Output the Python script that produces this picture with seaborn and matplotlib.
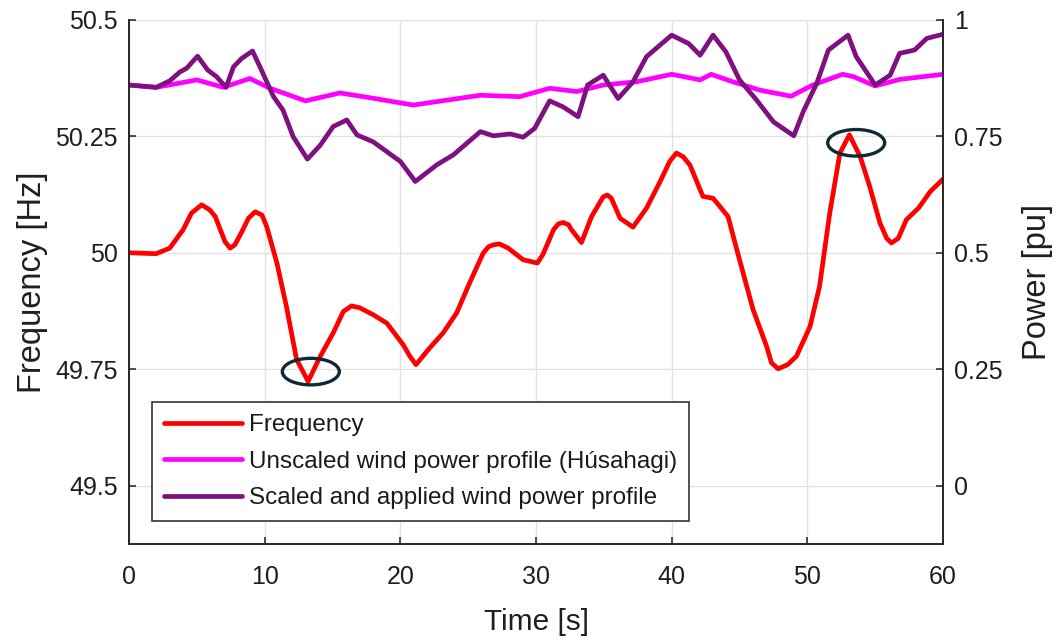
import numpy as np
import pandas as pd
import matplotlib
matplotlib.use("Agg")
import matplotlib.pyplot as plt
from matplotlib.patches import Ellipse
import seaborn as sns

# Grid frequency [Hz] over time [s]
freq_t = [0, 2.0, 3.0, 4.0, 4.6, 5.35, 5.95, 6.35, 7.07, 7.45, 7.8, 8.4, 8.8,
          9.3, 9.8, 10.15, 10.9, 11.6, 12.35, 13.2, 14.1, 15.05, 15.8, 16.4,
          17.0, 18.0, 19.0, 20.2, 20.7, 21.15, 21.55, 22.05, 23.15, 24.15,
          25.1, 26.1, 26.5, 26.85, 27.3, 27.95, 29.05, 30.1, 30.5, 31.3, 31.65,
          32.0, 32.4, 32.6, 33.35, 34.1, 34.95, 35.25, 35.55, 36.2, 37.15,
          38.15, 39.15, 39.85, 40.35, 40.85, 41.35, 42.3, 43.05, 44.15, 45.0,
          46.0, 47.0, 47.35, 47.85, 48.55, 49.2, 50.2, 50.9, 51.65, 52.4, 53.1,
          53.9, 54.6, 55.35, 55.85, 56.2, 56.7, 57.3, 58.2, 59.05, 60.0]
freq_hz = [50.0, 49.998, 50.01, 50.05, 50.085, 50.103, 50.092, 50.078, 50.024,
           50.01, 50.017, 50.05, 50.074, 50.088, 50.081, 50.056, 49.978,
           49.885, 49.771, 49.724, 49.778, 49.828, 49.874, 49.886, 49.882,
           49.867, 49.849, 49.803, 49.778, 49.76, 49.774, 49.792, 49.828,
           49.871, 49.935, 49.999, 50.013, 50.017, 50.019, 50.01, 49.985,
           49.978, 49.996, 50.05, 50.062, 50.065, 50.06, 50.05, 50.022,
           50.078, 50.12, 50.124, 50.117, 50.074, 50.055, 50.096, 50.153,
           50.196, 50.214, 50.206, 50.188, 50.121, 50.117, 50.078, 49.985,
           49.878, 49.799, 49.764, 49.751, 49.76, 49.778, 49.842, 49.928,
           50.085, 50.214, 50.253, 50.206, 50.142, 50.064, 50.031, 50.021,
           50.031, 50.071, 50.096, 50.131, 50.158]

# Unscaled wind power profile (Húsahagi) [pu]
raw_t = [0, 2.0, 5.0, 6.95, 8.9, 10.4, 13.0, 15.55, 17.5, 20.95, 25.9, 28.8,
         31.0, 33.0, 34.95, 37.4, 40.0, 42.1, 42.9, 44.5, 46.5, 48.8, 50.4,
         52.6, 53.4, 55.0, 56.8, 60.0]
raw_pu = [0.86, 0.855, 0.871, 0.855, 0.874, 0.853, 0.826, 0.843, 0.834, 0.817,
          0.838, 0.835, 0.853, 0.846, 0.86, 0.867, 0.883, 0.871, 0.883, 0.867,
          0.849, 0.836, 0.86, 0.883, 0.878, 0.858, 0.872, 0.883]

# Scaled and applied wind power profile [pu]
app_t = [0, 2.0, 3.0, 3.75, 4.25, 5.05, 5.8, 6.45, 7.15, 7.7, 8.3, 9.1, 9.65,
         10.65, 11.35, 12.1, 13.15, 14.1, 15.05, 16.05, 16.8, 18.0, 20.0, 21.1,
         22.7, 23.9, 24.9, 25.9, 26.85, 28.1, 29.05, 29.9, 31.0, 32.0, 33.1,
         33.8, 34.95, 36.05, 37.15, 38.15, 39.15, 40.0, 41.25, 42.1, 43.05,
         44.0, 45.0, 46.25, 47.5, 49.0, 49.7, 50.7, 51.55, 53.0, 53.6, 55.0,
         56.1, 56.8, 57.9, 58.8, 60.0]
app_pu = [0.86, 0.855, 0.869, 0.888, 0.896, 0.922, 0.892, 0.878, 0.855, 0.899,
          0.917, 0.933, 0.899, 0.835, 0.806, 0.749, 0.701, 0.731, 0.771, 0.785,
          0.753, 0.738, 0.696, 0.653, 0.689, 0.71, 0.735, 0.76, 0.751, 0.755,
          0.748, 0.767, 0.826, 0.813, 0.792, 0.86, 0.881, 0.831, 0.867, 0.921,
          0.946, 0.967, 0.949, 0.924, 0.967, 0.931, 0.871, 0.828, 0.781, 0.751,
          0.803, 0.864, 0.935, 0.967, 0.921, 0.86, 0.881, 0.928, 0.935, 0.96,
          0.969]

# Highlighted extremes (time [s], frequency [Hz])
marks_t = [13.4, 53.6]
marks_hz = [49.745, 50.236]

labels = ["Frequency", "Unscaled wind power profile (Húsahagi)",
          "Scaled and applied wind power profile"]
colors = ["#ff0000", "#ff00ff", "#7f107f"]

x_ticks = [0, 10, 20, 30, 40, 50, 60]
hz_ticks = [49.5, 49.75, 50, 50.25, 50.5]
hz_ticklabels = ["49.5", "49.75", "50", "50.25", "50.5"]
pu_ticks = [0, 0.25, 0.5, 0.75, 1]
pu_ticklabels = ["0", "0.25", "0.5", "0.75", "1"]

sns.set_theme(style="white")
plt.rcParams["font.family"] = ["Liberation Sans", "DejaVu Sans"]

fig = plt.figure(figsize=(10.56, 6.38), dpi=100)
ax = fig.add_axes([0.1222, 0.1473, 0.893 - 0.1222, 0.969 - 0.1473])
ax2 = ax.twinx()

df_f = pd.DataFrame({"t": freq_t, "v": freq_hz})
df_r = pd.DataFrame({"t": raw_t, "v": raw_pu})
df_a = pd.DataFrame({"t": app_t, "v": app_pu})

lw = 3.4
sns.lineplot(data=df_f, x="t", y="v", ax=ax, color=colors[0], lw=lw,
             label=labels[0], sort=False, solid_joinstyle="round",
             solid_capstyle="round")
sns.lineplot(data=df_r, x="t", y="v", ax=ax2, color=colors[1], lw=lw,
             label=labels[1], sort=False, solid_joinstyle="round")
sns.lineplot(data=df_a, x="t", y="v", ax=ax2, color=colors[2], lw=lw,
             label=labels[2], sort=False, solid_joinstyle="round")

for ct, cf in zip(marks_t, marks_hz):
    ax.add_patch(Ellipse((ct, cf), width=4.2, height=0.057, fill=False,
                         edgecolor="#0e2a35", lw=2.4, zorder=5))

ax.set_xlim(0, 60)
ax.set_ylim(49.375, 50.5)
ax2.set_ylim(-0.125, 1.0)

ax.set_xticks(x_ticks)
ax.set_xticklabels([str(v) for v in x_ticks])
ax.set_yticks(hz_ticks)
ax.set_yticklabels(hz_ticklabels)
ax2.set_yticks(pu_ticks)
ax2.set_yticklabels(pu_ticklabels)

ax.grid(True, color="#e2e2e2", lw=1.0)
ax2.grid(False)

tick_fs = 18
ink = "#1f1f1f"
ax.tick_params(axis="both", direction="in", length=5, width=1.1,
               labelsize=tick_fs, colors=ink, labelcolor=ink)
ax.tick_params(axis="x", pad=15, top=False, bottom=True)
ax.tick_params(axis="y", pad=8, left=True, right=False)
ax2.tick_params(axis="y", direction="in", length=5, width=1.1,
                labelsize=tick_fs, colors=ink, labelcolor=ink,
                pad=8, right=True, left=False)

for a in (ax, ax2):
    for side in ("left", "bottom", "right"):
        a.spines[side].set_color("#262626")
        a.spines[side].set_linewidth(1.2)
    a.spines["top"].set_visible(False)

ax.set_xlabel("Time [s]", fontsize=21.5, color=ink, labelpad=14)
ax.set_ylabel("Frequency [Hz]", fontsize=23.5, color=ink, labelpad=5)
ax2.set_ylabel("Power [pu]", fontsize=23.5, color=ink, labelpad=14)

if ax.get_legend() is not None:
    ax.get_legend().remove()
h1, l1 = ax.get_legend_handles_labels()
h2, l2 = ax2.get_legend_handles_labels()
leg = ax2.legend(h1 + h2, l1 + l2, loc="upper left",
                 bbox_to_anchor=(0.028, 0.271), borderaxespad=0,
                 fontsize=17.5, frameon=True, fancybox=False, framealpha=1,
                 edgecolor="#333333", handlelength=3.2, handletextpad=0.3,
                 labelspacing=0.6, borderpad=0.5)
leg.get_frame().set_linewidth(1.2)
for txt in leg.get_texts():
    txt.set_color("#1a1a1a")

fig.savefig("out.png", dpi=100, facecolor="white")
